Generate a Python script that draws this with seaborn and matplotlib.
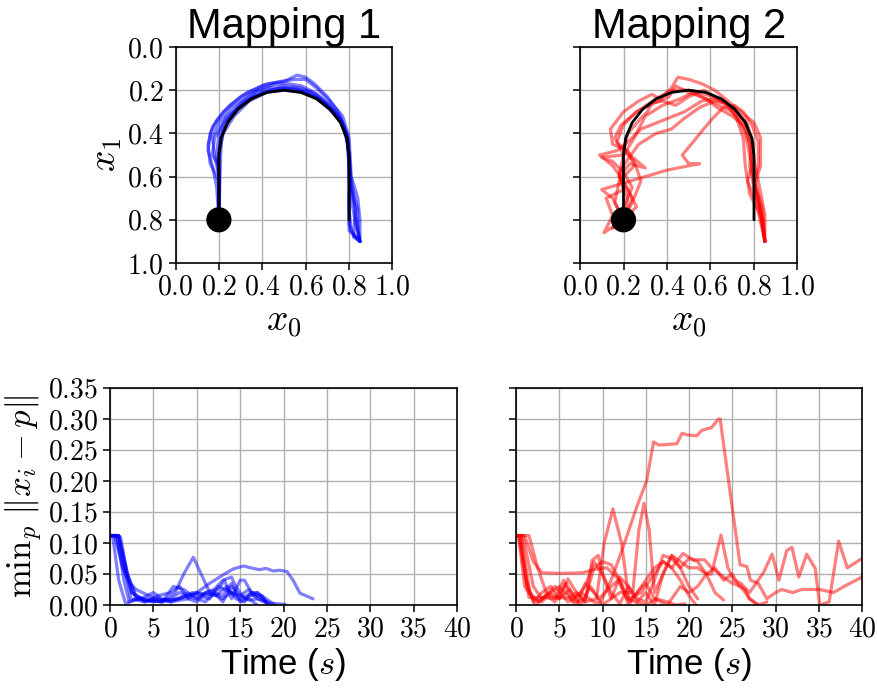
import numpy as np
import pandas as pd
import matplotlib
matplotlib.use("Agg")
import matplotlib.pyplot as plt
import seaborn as sns

# ---------------- data ----------------
titles = ["Mapping 1", "Mapping 2"]

# reference U-shaped path (x0, x1)
ref_x = [0.2, 0.2, 0.210, 0.240, 0.288, 0.350, 0.422, 0.5, 0.578, 0.650, 0.712, 0.760, 0.790, 0.8, 0.8]
ref_y = [0.8, 0.5, 0.422, 0.350, 0.288, 0.240, 0.210, 0.2, 0.210, 0.240, 0.288, 0.350, 0.422, 0.5, 0.8]
start_x = [0.2]
start_y = [0.8]

# Mapping 1 trajectories (blue)
b1_x = [0.2, 0.2, 0.2, 0.21, 0.24, 0.29, 0.36, 0.43, 0.5, 0.58, 0.65, 0.71, 0.77, 0.795, 0.8, 0.81, 0.83, 0.85]
b1_y = [0.8, 0.6, 0.48, 0.41, 0.34, 0.28, 0.23, 0.205, 0.195, 0.205, 0.235, 0.285, 0.35, 0.43, 0.55, 0.7, 0.82, 0.9]
b2_x = [0.2, 0.19, 0.17, 0.15, 0.16, 0.19, 0.25, 0.33, 0.42, 0.5, 0.56, 0.6, 0.64, 0.7, 0.75, 0.79, 0.8, 0.81, 0.84, 0.84, 0.85]
b2_y = [0.8, 0.65, 0.55, 0.48, 0.4, 0.34, 0.27, 0.21, 0.17, 0.16, 0.13, 0.14, 0.17, 0.23, 0.3, 0.4, 0.5, 0.65, 0.75, 0.85, 0.9]
b3_x = [0.2, 0.2, 0.19, 0.2, 0.23, 0.3, 0.38, 0.46, 0.52, 0.58, 0.64, 0.7, 0.76, 0.79, 0.805, 0.8, 0.8, 0.85]
b3_y = [0.8, 0.6, 0.5, 0.4, 0.33, 0.26, 0.2, 0.17, 0.17, 0.18, 0.21, 0.26, 0.33, 0.42, 0.55, 0.7, 0.85, 0.9]
b4_x = [0.2, 0.2, 0.17, 0.18, 0.22, 0.28, 0.35, 0.43, 0.5, 0.57, 0.64, 0.7, 0.76, 0.79, 0.8, 0.82, 0.83, 0.85]
b4_y = [0.8, 0.55, 0.5, 0.42, 0.35, 0.29, 0.235, 0.2, 0.19, 0.2, 0.23, 0.28, 0.34, 0.43, 0.55, 0.68, 0.78, 0.9]
b5_x = [0.2, 0.205, 0.21, 0.22, 0.26, 0.32, 0.4, 0.48, 0.55, 0.62, 0.69, 0.75, 0.785, 0.8, 0.8, 0.8, 0.82, 0.85]
b5_y = [0.8, 0.6, 0.45, 0.38, 0.31, 0.25, 0.21, 0.19, 0.19, 0.21, 0.26, 0.32, 0.4, 0.5, 0.65, 0.82, 0.87, 0.9]
b6_x = [0.2, 0.2, 0.16, 0.15, 0.17, 0.22, 0.3, 0.4, 0.48, 0.55, 0.6, 0.65, 0.71, 0.77, 0.8, 0.81, 0.84, 0.85, 0.85]
b6_y = [0.8, 0.62, 0.54, 0.45, 0.37, 0.3, 0.23, 0.18, 0.16, 0.15, 0.15, 0.19, 0.25, 0.32, 0.42, 0.6, 0.7, 0.8, 0.9]
b7_x = [0.2, 0.2, 0.22, 0.27, 0.34, 0.42, 0.5, 0.58, 0.66, 0.72, 0.77, 0.795, 0.8, 0.8, 0.81, 0.85]
b7_y = [0.8, 0.5, 0.4, 0.32, 0.25, 0.21, 0.2, 0.21, 0.24, 0.29, 0.36, 0.45, 0.6, 0.75, 0.85, 0.9]
b8_x = [0.2, 0.2, 0.18, 0.17, 0.2, 0.26, 0.34, 0.42, 0.5, 0.58, 0.65, 0.71, 0.76, 0.79, 0.8, 0.8, 0.83, 0.82, 0.85]
b8_y = [0.8, 0.6, 0.5, 0.42, 0.35, 0.28, 0.22, 0.19, 0.18, 0.19, 0.22, 0.27, 0.33, 0.41, 0.5, 0.62, 0.75, 0.88, 0.9]

# Mapping 2 trajectories (red)
r1_x = [0.2, 0.22, 0.18, 0.2, 0.16, 0.19, 0.26, 0.35, 0.42, 0.5, 0.58, 0.66, 0.72, 0.77, 0.79, 0.78, 0.8, 0.83, 0.85]
r1_y = [0.8, 0.7, 0.6, 0.5, 0.42, 0.36, 0.3, 0.24, 0.2, 0.2, 0.22, 0.25, 0.3, 0.36, 0.45, 0.55, 0.65, 0.75, 0.9]
r2_x = [0.2, 0.15, 0.1, 0.2, 0.3, 0.4, 0.5, 0.55, 0.5, 0.47, 0.52, 0.56, 0.61, 0.66, 0.71, 0.75, 0.79, 0.82, 0.82, 0.8, 0.84, 0.85]
r2_y = [0.8, 0.7, 0.66, 0.63, 0.6, 0.57, 0.55, 0.54, 0.54, 0.5, 0.44, 0.39, 0.33, 0.28, 0.27, 0.3, 0.36, 0.44, 0.55, 0.62, 0.75, 0.9]
r3_x = [0.2, 0.24, 0.2, 0.15, 0.09, 0.17, 0.22, 0.28, 0.38, 0.48, 0.56, 0.62, 0.7, 0.76, 0.8, 0.79, 0.82, 0.85]
r3_y = [0.8, 0.7, 0.62, 0.55, 0.5, 0.48, 0.44, 0.38, 0.34, 0.3, 0.25, 0.24, 0.28, 0.34, 0.45, 0.58, 0.7, 0.9]
r4_x = [0.2, 0.16, 0.18, 0.25, 0.22, 0.15, 0.14, 0.2, 0.27, 0.33, 0.37, 0.42, 0.45, 0.5, 0.56, 0.62, 0.68, 0.74, 0.8, 0.83, 0.83, 0.8, 0.84, 0.85]
r4_y = [0.8, 0.72, 0.62, 0.55, 0.48, 0.45, 0.38, 0.3, 0.25, 0.22, 0.24, 0.19, 0.14, 0.15, 0.17, 0.2, 0.25, 0.3, 0.35, 0.42, 0.55, 0.65, 0.8, 0.9]
r5_x = [0.2, 0.11, 0.15, 0.12, 0.2, 0.18, 0.22, 0.27, 0.35, 0.42, 0.48, 0.55, 0.62, 0.67, 0.72, 0.76, 0.78, 0.8, 0.83, 0.85]
r5_y = [0.8, 0.86, 0.78, 0.7, 0.66, 0.58, 0.52, 0.45, 0.4, 0.38, 0.33, 0.28, 0.25, 0.26, 0.32, 0.4, 0.5, 0.6, 0.75, 0.9]
r6_x = [0.2, 0.24, 0.28, 0.25, 0.2, 0.22, 0.28, 0.31, 0.33, 0.38, 0.44, 0.5, 0.57, 0.62, 0.68, 0.72, 0.75, 0.76, 0.78, 0.83, 0.85]
r6_y = [0.8, 0.72, 0.62, 0.53, 0.48, 0.4, 0.33, 0.3, 0.26, 0.25, 0.27, 0.23, 0.2, 0.23, 0.27, 0.33, 0.42, 0.55, 0.68, 0.78, 0.9]
r7_x = [0.2, 0.26, 0.22, 0.18, 0.23, 0.3, 0.23, 0.17, 0.2, 0.26, 0.34, 0.41, 0.44, 0.5, 0.58, 0.63, 0.7, 0.76, 0.78, 0.79, 0.77, 0.81, 0.85]
r7_y = [0.8, 0.74, 0.66, 0.6, 0.54, 0.56, 0.5, 0.44, 0.36, 0.3, 0.26, 0.23, 0.18, 0.21, 0.24, 0.28, 0.32, 0.37, 0.45, 0.55, 0.62, 0.72, 0.9]
r8_x = [0.2, 0.15, 0.2, 0.24, 0.2, 0.15, 0.1, 0.2, 0.25, 0.3, 0.38, 0.46, 0.52, 0.58, 0.64, 0.7, 0.75, 0.78, 0.8, 0.82, 0.85, 0.85]
r8_y = [0.8, 0.84, 0.74, 0.65, 0.58, 0.53, 0.51, 0.5, 0.42, 0.32, 0.27, 0.24, 0.21, 0.24, 0.27, 0.3, 0.36, 0.44, 0.52, 0.62, 0.78, 0.9]

# Mapping 1 errors over time (blue)
be1_t = [0, 1, 2, 3, 4, 6, 8, 10, 11.5, 13.2, 14.2, 15.4, 16.2, 17.2, 18, 18.8, 19.6, 20.4, 21.1, 21.9, 23.4]
be1_v = [0.112, 0.112, 0.05, 0.015, 0.008, 0.005, 0.01, 0.02, 0.035, 0.05, 0.058, 0.063, 0.06, 0.057, 0.059, 0.055, 0.056, 0.054, 0.04, 0.019, 0.01]
be2_t = [0, 0.5, 1.5, 2.5, 4, 6, 7.5, 8.5, 9.6, 10.5, 11.5, 13, 14, 15, 16, 17, 18.5, 20.2]
be2_v = [0.112, 0.112, 0.06, 0.02, 0.008, 0.005, 0.02, 0.05, 0.077, 0.05, 0.02, 0.01, 0.02, 0.015, 0.008, 0.01, 0.003, 0.001]
be3_t = [0, 1, 2, 2.5, 4, 5.5, 7, 8, 9, 10, 11, 12, 13, 14, 14.5, 15.5, 17, 18, 19]
be3_v = [0.112, 0.112, 0.05, 0.02, 0.005, 0.015, 0.02, 0.03, 0.01, 0.005, 0.02, 0.025, 0.04, 0.045, 0.03, 0.01, 0.02, 0.01, 0.0]
be4_t = [0, 1.2, 2, 3, 5, 6, 7.3, 8.5, 10, 11, 12.5, 13.2, 14, 15, 15.5, 16.5, 17.5, 18]
be4_v = [0.112, 0.11, 0.05, 0.01, 0.01, 0.005, 0.03, 0.025, 0.01, 0.02, 0.025, 0.04, 0.01, 0.04, 0.04, 0.015, 0.015, 0.005]
be5_t = [0, 0.8, 1.6, 2.2, 3.5, 5, 6, 7, 9, 10, 11, 12, 13, 14, 15, 16, 17, 18.5]
be5_v = [0.112, 0.112, 0.04, 0.005, 0.01, 0.02, 0.01, 0.005, 0.01, 0.02, 0.015, 0.02, 0.005, 0.03, 0.015, 0.025, 0.01, 0.0]
be6_t = [0, 0.3, 1.0, 1.8, 3, 5, 7, 8, 10, 11.5, 12.5, 14, 15, 16.5, 17.5, 18.2]
be6_v = [0.112, 0.112, 0.04, 0.002, 0.01, 0.005, 0.01, 0.02, 0.015, 0.01, 0.03, 0.02, 0.01, 0.02, 0.01, 0.002]
be7_t = [0, 1, 1.7, 2.4, 4, 5.5, 7, 8.5, 10, 11, 12, 13, 14, 14.5, 15, 16, 17]
be7_v = [0.112, 0.112, 0.06, 0.01, 0.005, 0.01, 0.005, 0.015, 0.01, 0.005, 0.02, 0.015, 0.035, 0.02, 0.005, 0.01, 0.0]
be8_t = [0, 0.7, 1.5, 2.3, 3, 4.5, 6, 8, 9.5, 11, 12.2, 13.5, 14.5, 15.5, 16.2, 17, 18]
be8_v = [0.112, 0.112, 0.06, 0.035, 0.025, 0.015, 0.008, 0.01, 0.02, 0.018, 0.015, 0.03, 0.01, 0.005, 0.02, 0.02, 0.005]

# Mapping 2 errors over time (red)
re1_t = [0, 0.8, 2, 3, 4.5, 6, 7.5, 9, 9.7, 11, 12.4, 14, 15.1, 15.9, 16.5, 18.6, 19.2, 19.9, 20.9, 21.5, 22.6, 23.4, 23.6, 25.9, 26.7, 27.1, 28, 29, 30, 30.7, 32, 33, 35.1, 36.7, 38.2, 40]
re1_v = [0.112, 0.112, 0.03, 0.01, 0.03, 0.005, 0.02, 0.005, 0.003, 0.04, 0.094, 0.16, 0.2, 0.263, 0.258, 0.26, 0.277, 0.274, 0.273, 0.282, 0.286, 0.3, 0.3, 0.065, 0.062, 0.04, 0.035, 0.01, 0.02, 0.025, 0.02, 0.025, 0.025, 0.02, 0.032, 0.045]
re2_t = [0, 1, 2, 3, 5, 7.7, 9.3, 10.5, 12, 13, 14.5, 16, 17, 18, 19.3, 20.5, 21.8, 22.6, 24, 25, 26, 27, 28]
re2_v = [0.112, 0.112, 0.07, 0.052, 0.051, 0.052, 0.058, 0.06, 0.04, 0.01, 0.02, 0.05, 0.07, 0.06, 0.083, 0.073, 0.073, 0.06, 0.045, 0.035, 0.03, 0.01, 0.0]
re3_t = [0, 0.3, 1, 1.5, 3, 4, 5, 6, 7, 8, 9.3, 10.2, 11.2, 12.2, 13.1, 14, 15, 16, 17, 18, 19, 20, 20.8]
re3_v = [0.112, 0.112, 0.05, 0.012, 0.012, 0.011, 0.012, 0.011, 0.02, 0.005, 0.01, 0.1, 0.155, 0.1, 0.005, 0.02, 0.04, 0.06, 0.07, 0.06, 0.04, 0.015, 0.0]
re4_t = [0, 1.5, 2.5, 3.5, 4.5, 5.5, 6.5, 8, 9, 10, 11, 12, 13.5, 14.2, 14.8, 15.4, 16, 17, 18, 19, 20, 21, 22, 22.6, 23.7, 24.5, 25.2, 26, 27, 28.6, 29.6, 30.4, 31.3, 31.9, 32.7, 33.6, 34.6, 35.1, 36.2, 37.3, 38.3, 40]
re4_v = [0.112, 0.112, 0.06, 0.02, 0.01, 0.04, 0.005, 0.03, 0.07, 0.05, 0.01, 0.02, 0.02, 0.12, 0.164, 0.12, 0.02, 0.05, 0.08, 0.07, 0.06, 0.06, 0.05, 0.05, 0.113, 0.06, 0.04, 0.035, 0.02, 0.052, 0.082, 0.04, 0.088, 0.093, 0.045, 0.082, 0.059, 0.0, 0.005, 0.103, 0.06, 0.075]
re5_t = [0, 0.4, 1.2, 2, 3, 4, 5, 6, 7, 8, 8.8, 9.5, 10, 11, 12, 13, 14, 15, 16, 17, 18, 19, 20, 21, 22, 23, 24]
re5_v = [0.112, 0.112, 0.04, 0.005, 0.02, 0.03, 0.01, 0.042, 0.02, 0.005, 0.072, 0.08, 0.05, 0.02, 0.002, 0.03, 0.01, 0.005, 0.04, 0.08, 0.075, 0.06, 0.075, 0.07, 0.05, 0.02, 0.008]
re6_t = [0, 0.5, 1.3, 2.2, 3.5, 4.5, 5.8, 7, 8, 9, 10, 11, 12, 13, 14, 15, 16, 17.5, 19, 20, 21, 22, 23, 24, 25, 25.8, 26.5, 27, 28, 29]
re6_v = [0.112, 0.112, 0.03, 0.0, 0.015, 0.005, 0.035, 0.005, 0.01, 0.06, 0.07, 0.065, 0.04, 0.0, 0.02, 0.035, 0.01, 0.0, 0.03, 0.02, 0.03, 0.05, 0.06, 0.04, 0.05, 0.03, 0.025, 0.01, 0.0, 0.005]
re7_t = [0, 0.6, 1.6, 2.6, 3.8, 5, 6.2, 7.5, 8.6, 9.6, 10.6, 11.8, 12.8, 13.8, 15, 16.2, 17.5, 18.5, 19.5]
re7_v = [0.112, 0.112, 0.02, 0.005, 0.02, 0.01, 0.025, 0.0, 0.03, 0.01, 0.025, 0.04, 0.01, 0.005, 0.0, 0.01, 0.005, 0.0, 0.002]
re8_t = [0, 0.3, 1, 2, 3, 4, 5, 6, 7, 8, 9, 10, 11, 12, 13, 14, 15, 16, 17, 18, 19, 20, 21]
re8_v = [0.112, 0.112, 0.03, 0.01, 0.005, 0.02, 0.03, 0.015, 0.0, 0.035, 0.02, 0.0, 0.01, 0.045, 0.03, 0.005, 0.02, 0.0, 0.05, 0.08, 0.06, 0.03, 0.01]

pos_ticks = [0.0, 0.2, 0.4, 0.6, 0.8, 1.0]
pos_labels = ["$0.0$", "$0.2$", "$0.4$", "$0.6$", "$0.8$", "$1.0$"]
err_ticks = [0.0, 0.05, 0.10, 0.15, 0.20, 0.25, 0.30, 0.35]
err_labels = ["$0.00$", "$0.05$", "$0.10$", "$0.15$", "$0.20$", "$0.25$", "$0.30$", "$0.35$"]
time_ticks = [0, 5, 10, 15, 20, 25, 30, 35, 40]
time_labels = ["$0$", "$5$", "$10$", "$15$", "$20$", "$25$", "$30$", "$35$", "$40$"]

# ---------------- build frames ----------------
def traj_frame(pairs):
    rows = []
    for k, (xs, ys) in enumerate(pairs):
        for i, (a, b) in enumerate(zip(xs, ys)):
            rows.append({"x": a, "y": b, "unit": k, "order": i})
    return pd.DataFrame(rows)

blue_traj = traj_frame([(b1_x, b1_y), (b2_x, b2_y), (b3_x, b3_y), (b4_x, b4_y),
                        (b5_x, b5_y), (b6_x, b6_y), (b7_x, b7_y), (b8_x, b8_y)])
red_traj = traj_frame([(r1_x, r1_y), (r2_x, r2_y), (r3_x, r3_y), (r4_x, r4_y),
                       (r5_x, r5_y), (r6_x, r6_y), (r7_x, r7_y), (r8_x, r8_y)])
blue_err = traj_frame([(be1_t, be1_v), (be2_t, be2_v), (be3_t, be3_v), (be4_t, be4_v),
                       (be5_t, be5_v), (be6_t, be6_v), (be7_t, be7_v), (be8_t, be8_v)])
red_err = traj_frame([(re1_t, re1_v), (re2_t, re2_v), (re3_t, re3_v), (re4_t, re4_v),
                      (re5_t, re5_v), (re6_t, re6_v), (re7_t, re7_v), (re8_t, re8_v)])
ref_df = pd.DataFrame({"x": ref_x, "y": ref_y})
start_df = pd.DataFrame({"x": start_x, "y": start_y})

# ---------------- style ----------------
sns.set_theme(style="ticks", rc={
    "axes.grid": True, "grid.color": "#b0b0b0", "grid.linewidth": 1.0,
    "axes.edgecolor": "black", "axes.linewidth": 1.2,
    "xtick.color": "black", "ytick.color": "black",
    "text.color": "black", "axes.labelcolor": "black",
    "xtick.major.size": 5, "ytick.major.size": 5,
    "xtick.major.width": 1.1, "ytick.major.width": 1.1,
})
plt.rcParams["font.family"] = ["Liberation Sans", "DejaVu Sans"]
plt.rcParams["mathtext.fontset"] = "cm"

fig = plt.figure(figsize=(8.77, 6.89), dpi=100)
W, H = 877, 689
def add_ax(l, t, r, b):
    return fig.add_axes([l / W, 1 - b / H, (r - l) / W, (b - t) / H])

ax_tl = add_ax(175.5, 47, 392.5, 263)
ax_tr = add_ax(580, 47, 797.5, 263)
ax_bl = add_ax(110, 388, 457, 605)
ax_br = add_ax(516, 388, 862, 605)

TICK_FS = 20
LABEL_FS = 25
LW = 2.3

for ax, traj, col, title in [(ax_tl, blue_traj, "blue", titles[0]), (ax_tr, red_traj, "red", titles[1])]:
    sns.lineplot(data=traj, x="x", y="y", units="unit", estimator=None, sort=False,
                 color=col, alpha=0.5, lw=LW, ax=ax, legend=False)
    sns.lineplot(data=ref_df, x="x", y="y", sort=False, estimator=None, color="black",
                 lw=2, ax=ax, legend=False, zorder=5)
    sns.scatterplot(data=start_df, x="x", y="y", color="black", s=330, ax=ax,
                    legend=False, zorder=6, edgecolor="none")
    ax.set_xlim(0, 1)
    ax.set_ylim(1, 0)
    ax.set_xticks(pos_ticks, pos_labels, fontsize=TICK_FS)
    ax.set_yticks(pos_ticks, pos_labels, fontsize=TICK_FS)
    ax.set_xlabel("$x_0$", fontsize=LABEL_FS + 2, labelpad=2)
    ax.set_ylabel("")
    ax.set_title(title, fontsize=30, pad=4)
    ax.set_axisbelow(True)

ax_tl.set_ylabel("$x_1$", fontsize=LABEL_FS + 2, labelpad=2)
ax_tr.set_yticklabels([])

for ax, err, col in [(ax_bl, blue_err, "blue"), (ax_br, red_err, "red")]:
    sns.lineplot(data=err, x="x", y="y", units="unit", estimator=None, sort=False,
                 color=col, alpha=0.5, lw=LW, ax=ax, legend=False)
    ax.set_xlim(0, 40)
    ax.set_ylim(0, 0.35)
    ax.set_xticks(time_ticks, time_labels, fontsize=TICK_FS)
    ax.set_yticks(err_ticks, err_labels, fontsize=TICK_FS)
    ax.set_xlabel("Time ($s$)", fontsize=LABEL_FS, labelpad=2)
    ax.set_ylabel("")
    ax.set_axisbelow(True)

ax_bl.set_ylabel(r"$\mathrm{min}_p\ \Vert x_i - p\Vert$", fontsize=LABEL_FS, labelpad=2)
ax_br.set_yticklabels([])

fig.savefig("out.png", dpi=100)
